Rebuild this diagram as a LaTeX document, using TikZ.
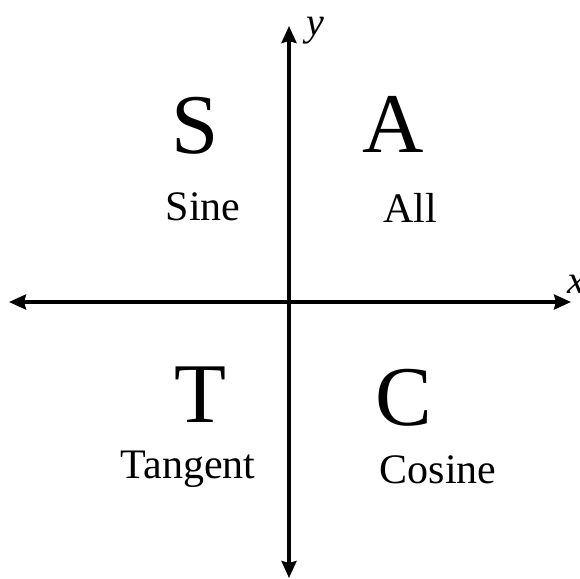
\documentclass[tikz,border=0pt]{standalone}
\usepackage{fontspec}
\setmainfont{Liberation Serif}
\usetikzlibrary{arrows.meta,positioning}
\tikzset{
  astcaxis/.style={{Stealth[length=17pt,width=15pt,inset=2pt]}-{Stealth[length=17pt,width=15pt,inset=2pt]},
                   line width=3.4pt,black},
  astcletter/.style={anchor=base,inner sep=0pt,font=\fontsize{85}{85}\selectfont},
  astcname/.style={anchor=base,inner sep=0pt,font=\fontsize{42}{42}\selectfont},
  astcaxlabel/.style={anchor=base west,inner sep=0pt,font=\fontsize{40}{40}\selectfont\itshape}
}
\begin{document}
\begin{tikzpicture}[x=1pt,y=-1pt]
    \useasboundingbox (0,0) rectangle (580,578);
    % axes
    \coordinate (xl) at (9,302);
    \coordinate (xr) at (571,302);
    \coordinate (yt) at (289,26);
    \coordinate (yb) at (289,578);
    \draw[astcaxis] (xl) -- (xr);
    \draw[astcaxis] (yt) -- (yb);
    \node[astcaxlabel] (ylab) at (306,36) {y};
    \node[astcaxlabel] (xlab) at (567,293) {x};

    % quadrants
    \node[astcletter] (s) at (195,153) {S};
    \node[astcname] (sine) at (203,220) {Sine};
    \node[astcletter] (a) at (393,152) {A};
    \node[astcname] (all) at (410,222) {All};
    \node[astcletter] (t) at (200,422) {T};
    \node[astcname] (tangent) at (188,478) {Tangent};
    \node[astcletter] (c) at (404,425) {C};
    \node[astcname] (cosine) at (438,483) {Cosine};
\end{tikzpicture}
\end{document}
